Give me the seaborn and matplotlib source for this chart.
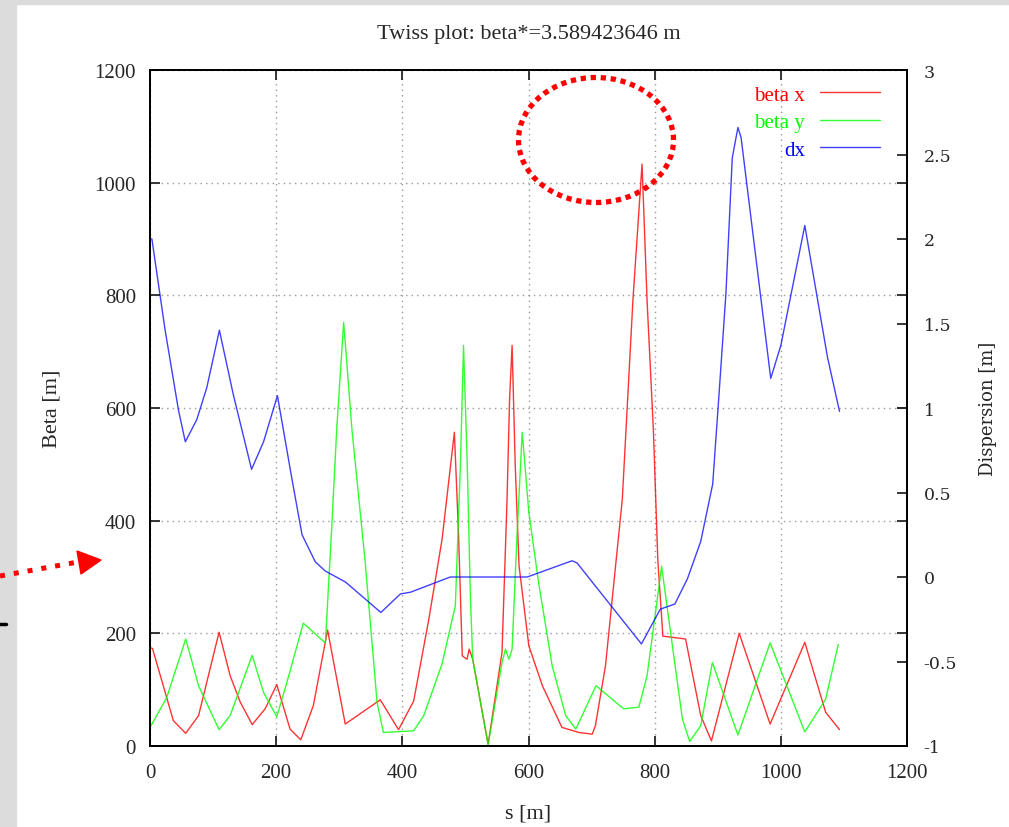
import numpy as np
import pandas as pd
import seaborn as sns
import matplotlib.pyplot as plt
from matplotlib.patches import Rectangle, Ellipse, Polygon
from matplotlib.lines import Line2D

## values
s_betx = [0, 4, 37, 56.6, 77, 109.5, 127, 143, 162, 182.5, 201, 222, 239, 259, 281.5,
          309.5, 365, 394, 418, 442, 463, 482.5, 489, 495, 502.6, 506, 511.6, 536,
          558, 566, 570, 574, 579, 585, 600.5, 622, 653, 680, 701, 706, 722, 748.7,
          765.6, 780, 788, 798, 805, 813, 849, 873, 890, 934, 983, 1038, 1071, 1093]
betx = [175, 173, 45, 22.5, 54, 202, 125, 78, 38, 66, 109, 30, 11, 72, 206,
        39, 82, 29, 80, 225, 367, 557, 379, 160, 154, 172, 154, 3,
        166, 438, 616, 711, 497, 320, 178, 107, 33, 24, 21, 36, 142, 438,
        793, 1033, 790, 560, 330, 195, 190, 54, 9, 200, 39, 184, 60, 29]

s_bety = [0, 26.5, 56.6, 77, 109.5, 127, 162, 180, 201, 217, 243, 278, 288, 296, 307,
          320, 341, 360, 370, 418, 434, 463, 484, 492, 497, 503, 508, 511.6, 536,
          558, 563.5, 569, 574, 582, 590, 600.5, 616, 637.6, 659, 675, 707, 751, 775,
          788, 811, 831, 844, 855.5, 873, 891.5, 932, 983, 1038, 1071, 1091]
bety = [33, 86, 190, 107, 29, 54, 161, 95, 52, 113, 218, 183, 386, 563, 752,
        563, 328, 77, 24, 27, 54, 146, 249, 497, 711, 497, 261, 154, 2,
        148, 172, 154, 172, 379, 557, 415, 290, 142, 54, 30, 107, 66, 69,
        125, 319, 154, 48, 8, 36, 148, 19.5, 183, 25, 83, 180]

s_dx = [0, 3, 24, 45, 56, 74, 90, 110, 132, 161, 180, 202, 225, 241, 262, 278, 310,
        366, 397, 413, 476, 598, 669, 677, 779, 809, 832, 852, 873, 892, 902, 913,
        923, 932, 937, 984, 1000, 1038, 1074, 1093]
dx = [2.0, 2.0, 1.46, 0.99, 0.80, 0.93, 1.12, 1.46, 1.08, 0.637, 0.80, 1.073, 0.58,
      0.25, 0.09, 0.035, -0.03, -0.21, -0.10, -0.09, 0.0, 0.0, 0.096, 0.083, -0.396,
      -0.19, -0.16, -0.01, 0.21, 0.55, 1.08, 1.68, 2.48, 2.66, 2.6, 1.175, 1.37, 2.08,
      1.30, 0.98]

sns.set_style('ticks')
plt.rcParams['font.family'] = ['Liberation Serif', 'DejaVu Serif']

W, H = 1009, 828
fig = plt.figure(figsize=(W / 100, H / 100), dpi=100)
ax = fig.add_axes([150 / W, 1 - 747 / H, 757 / W, 676 / H])
ax2 = ax.twinx()

# grey frame of the screenshot
fig.patches.append(Rectangle((0, 0), 16 / W, 1, transform=fig.transFigure, color='#dcdcdc', zorder=-1))
fig.patches.append(Rectangle((0, 1 - 5 / H), 1, 5 / H, transform=fig.transFigure, color='#dcdcdc', zorder=-1))

sns.lineplot(x=s_betx, y=betx, ax=ax, color='#ff0000', lw=1.0, alpha=0.8, label='beta x', legend=False)
sns.lineplot(x=s_bety, y=bety, ax=ax, color='#00ff00', lw=1.0, alpha=0.8, label='beta y', legend=False)
sns.lineplot(x=s_dx, y=dx, ax=ax2, color='#0000ff', lw=1.0, alpha=0.75, label='dx', legend=False)

ax.set_xlim(0, 1200)
ax.set_ylim(0, 1200)
ax2.set_ylim(-1, 3)
ax.set_xticks(range(0, 1201, 200))
ax.set_yticks(range(0, 1201, 200))
ax2.set_yticks(np.arange(-1, 3.01, 0.5))
ax2.set_yticklabels(['-1', '-0.5', '0', '0.5', '1', '1.5', '2', '2.5', '3'])

ax.grid(True, color='#999999', ls=(0, (1, 3)), lw=1.0)
ax.tick_params(direction='in', length=7, width=1.3, top=True, right=True,
               labelsize=15, pad=12)
ax.tick_params(axis='y', pad=10)
ax2.tick_params(direction='in', length=7, width=1.3, labelsize=12.5, pad=12)
for lab in ax2.get_yticklabels():
    lab.set_family('DejaVu Serif')
for a in (ax, ax2):
    for sp in a.spines.values():
        sp.set_linewidth(1.3)
        sp.set_color('black')

ax.set_title('Twiss plot: beta*=3.589423646 m', fontsize=16, pad=23)
ax.set_xlabel('s [m]', fontsize=16, labelpad=16)
ax.set_ylabel('Beta [m]', fontsize=16, labelpad=24)
ax2.set_ylabel('Dispersion [m]', fontsize=13, family='DejaVu Serif', labelpad=16)

h1, l1 = ax.get_legend_handles_labels()
h2, l2 = ax2.get_legend_handles_labels()
leg = ax2.legend(h1 + h2, l1 + l2, loc='upper right', frameon=False, markerfirst=False,
                 labelcolor='linecolor', fontsize=15, handlelength=2.9, handletextpad=0.7,
                 labelspacing=0.38, borderpad=0, borderaxespad=0,
                 bbox_to_anchor=((880 - 150) / 757, 1 - 15 / 676))

# red dotted annotations drawn on top of the screenshot
fig.add_artist(Ellipse((596 / W, 1 - 141 / H), 155 / W, 125 / H, transform=fig.transFigure,
                       fill=False, ec='red', lw=3.8, ls=(0, (1, 0.9)), zorder=10))
fig.add_artist(Line2D([0, 78 / W], [1 - 577 / H, 1 - 563 / H], transform=fig.transFigure,
                      color='red', lw=3.6, ls=(0, (1, 1.8)), dash_capstyle='butt', zorder=10))
fig.add_artist(Polygon([(77 / W, 1 - 552 / H), (81 / W, 1 - 575 / H), (101 / W, 1 - 561 / H)],
                       closed=True, transform=fig.transFigure, color='red', zorder=10))
fig.add_artist(Line2D([0, 6 / W], [1 - 625 / H, 1 - 625 / H], transform=fig.transFigure,
                      color='black', lw=2.5, zorder=10))

fig.savefig('out.png', dpi=100)
